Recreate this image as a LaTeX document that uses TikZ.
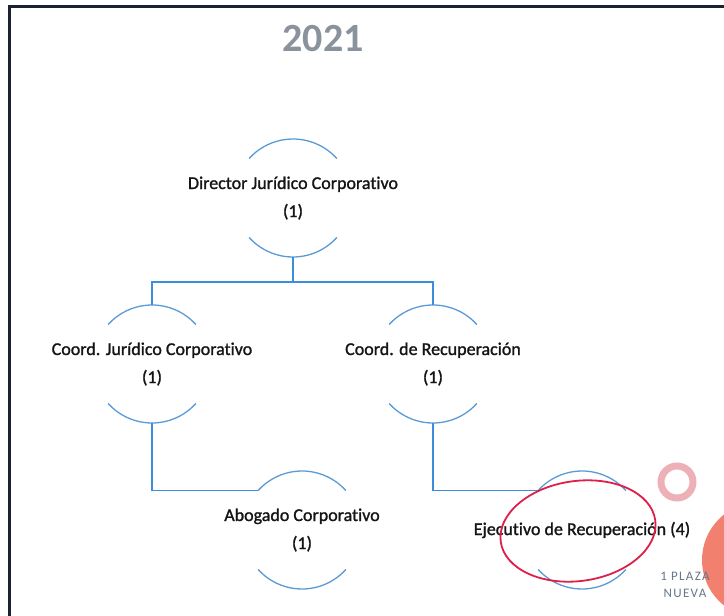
\documentclass[tikz,border=0pt]{standalone}
\usepackage{fontspec}
\setmainfont{Carlito}[Ligatures={NoCommon}]
\newfontfamily\rolefont{Carlito}[Ligatures={NoCommon}, FakeBold=1.3]
\definecolor{arcblue}{HTML}{5A9BD5}
\definecolor{lineblue}{HTML}{3C8EDB}
\definecolor{titlegray}{HTML}{8A929D}
\definecolor{frameblack}{HTML}{1C2230}
\definecolor{txt}{HTML}{151515}
\definecolor{ringpink}{HTML}{EDB0B7}
\definecolor{salmon}{HTML}{F2806F}
\definecolor{markred}{HTML}{DE1F4A}
\definecolor{smallgray}{HTML}{66768B}
\tikzset{
  role/.style={circle, minimum size=118pt, inner sep=0pt, outer sep=0pt},
  roletext/.style={font=\rolefont\fontsize{18}{28}\selectfont, text=txt, align=center},
  arcline/.style={draw=arcblue, line width=1.3pt},
  conn/.style={draw=lineblue, line width=1.3pt},
}
\newcommand{\rolearcs}[1]{%
  \draw[arcline] (#1.42) arc[start angle=42, end angle=138, radius=59pt];
  \draw[arcline] (#1.-42) arc[start angle=-42, end angle=-138, radius=59pt];
}
\begin{document}
\begin{tikzpicture}[x=1pt,y=1pt]
\useasboundingbox (0,0) rectangle (724,-616);
% frame
\draw[frameblack, line width=3pt] (9,-616) -- (9,-6) -- (724,-6);
% title
\node[font=\fontsize{40}{40}\selectfont\bfseries, text=titlegray] (title) at (323,-39) {2021};
% role nodes
\node[role, label={[roletext]center:Director Jurídico Corporativo\\(1)}] (dir) at (293,-198) {};
\node[role, label={[roletext]center:Coord. Jurídico Corporativo\\(1)}] (cj) at (152,-364) {};
\node[role, label={[roletext]center:Coord. de Recuperación\\(1)}] (cr) at (433,-364) {};
\node[role, label={[roletext]center:Abogado Corporativo\\(1)}] (ab) at (302,-530) {};
\node[role, label={[roletext]center:Ejecutivo de Recuperación (4)}] (ej) at (582,-530) {};
\rolearcs{dir}
\rolearcs{cj}
\rolearcs{cr}
\rolearcs{ab}
\rolearcs{ej}
% connectors
\draw[conn] (dir.south) -- ++(0,-25) coordinate (bar);
\draw[conn] (cj.north) -- (cj.north |- bar) -- (cr.north |- bar) -- (cr.north);
\draw[conn] (cj.south) |- (ab.138);
\draw[conn] (cr.south) |- (ej.138);
% decorations
\draw[ringpink, line width=7pt] (677,-482) circle[radius=16];
\fill[salmon] (760,-560) circle[radius=58];
\node[font=\fontsize{13}{17}\selectfont\addfontfeature{LetterSpace=10}, text=smallgray, align=center] (plaza) at (685,-585) {1 PLAZA\\NUEVA};
\draw[markred, line width=1.8pt, rotate around={8:(578,-531)}] (578,-531) ellipse[x radius=78, y radius=50];
\end{tikzpicture}
\end{document}
